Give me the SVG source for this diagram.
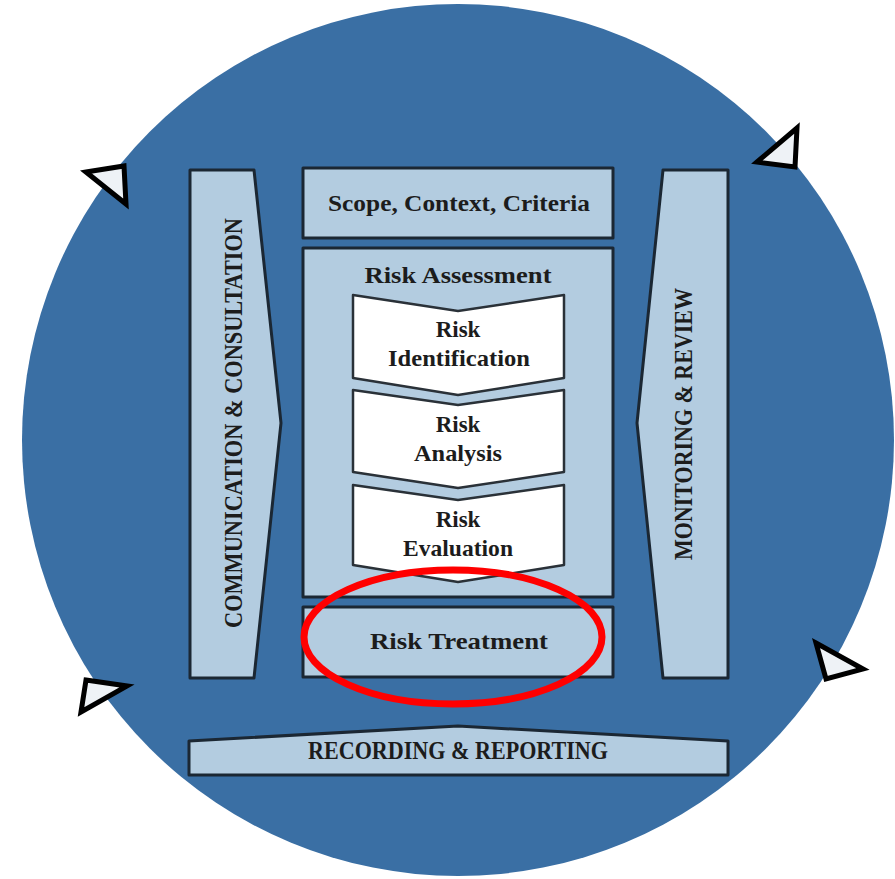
<svg xmlns="http://www.w3.org/2000/svg" width="895" height="879" viewBox="0 0 895 879">
<style>
.box{fill:#b3cce0;stroke:#1b2733;stroke-width:3;stroke-linejoin:round}
.chev{fill:#ffffff;stroke:#2a3138;stroke-width:2.5;stroke-linejoin:round}
.t{font-family:"Liberation Serif","Times New Roman",serif;font-weight:bold;fill:#1c1c1c;text-anchor:middle}
.tri{fill:#eef2f6;stroke:#000;stroke-width:5;stroke-linejoin:miter}
</style>
<rect width="895" height="879" fill="#ffffff"/>
<circle id="ring" cx="458" cy="440" r="436" fill="#3a6fa4"/>
<g id="connectors">
<polygon class="tri" points="86,172 124,166 126,204"/>
<polygon class="tri" points="757,162 797,128 795,167"/>
<polygon class="tri" points="86,680 127,686 81,712"/>
<polygon class="tri" points="816,643 863,669 826,679"/>
</g>
<g id="communication">
<polygon class="box" points="190,170 254,170 281,423 254,678 190,678"/>
<text class="t" transform="translate(242,423) rotate(-90)" font-size="25" textLength="410" lengthAdjust="spacingAndGlyphs">COMMUNICATION &amp; CONSULTATION</text>
</g>
<g id="monitoring">
<polygon class="box" points="663,170 728,170 728,678 663,678 637,423"/>
<text class="t" transform="translate(692,424) rotate(-90)" font-size="25" textLength="272" lengthAdjust="spacingAndGlyphs">MONITORING &amp; REVIEW</text>
</g>
<g id="scope">
<rect class="box" x="303" y="168" width="310" height="70"/>
<text class="t" x="459" y="211" font-size="23" textLength="262" lengthAdjust="spacingAndGlyphs">Scope, Context, Criteria</text>
</g>
<g id="assessment">
<rect class="box" x="303" y="248" width="310" height="349"/>
<text class="t" x="458" y="283" font-size="23" textLength="187" lengthAdjust="spacingAndGlyphs">Risk Assessment</text>
</g>
<g id="identification">
<polygon class="chev" points="353,295 458,311 564,295 564,378 458,395 353,378"/>
<text class="t" x="458" y="337" font-size="23">Risk</text>
<text class="t" x="459" y="366" font-size="23" textLength="142" lengthAdjust="spacingAndGlyphs">Identification</text>
</g>
<g id="analysis">
<polygon class="chev" points="353,390 458,405 564,390 564,472 458,488 353,472"/>
<text class="t" x="458" y="432" font-size="23">Risk</text>
<text class="t" x="458" y="461" font-size="23" textLength="88" lengthAdjust="spacingAndGlyphs">Analysis</text>
</g>
<g id="evaluation">
<polygon class="chev" points="353,485 458,500 564,485 564,565 458,582 353,565"/>
<text class="t" x="458" y="527" font-size="23">Risk</text>
<text class="t" x="458" y="556" font-size="23" textLength="110" lengthAdjust="spacingAndGlyphs">Evaluation</text>
</g>
<g id="treatment">
<rect class="box" x="303" y="607" width="310" height="70"/>
<text class="t" x="459" y="649" font-size="23" textLength="178" lengthAdjust="spacingAndGlyphs">Risk Treatment</text>
</g>
<g id="recording">
<polygon class="box" points="189,741 458,726 728,741 728,775 189,775"/>
<text class="t" x="458" y="759" font-size="25" textLength="300" lengthAdjust="spacingAndGlyphs">RECORDING &amp; REPORTING</text>
</g>
<ellipse id="highlight" cx="453" cy="637" rx="149" ry="67" fill="none" stroke="#ff0000" stroke-width="7"/>
</svg>
